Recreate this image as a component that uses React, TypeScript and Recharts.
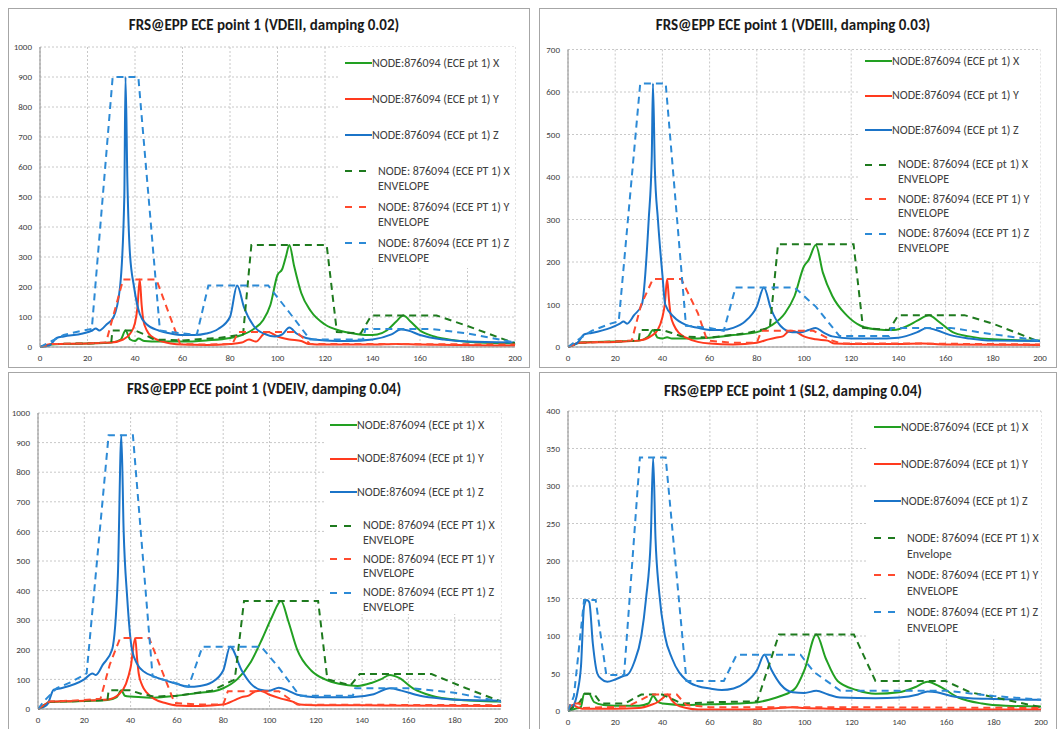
import { CartesianGrid, Line, LineChart, XAxis, YAxis } from "recharts";

type Pt = [number, number];

const FONT = "Carlito, Lato, 'Open Sans', sans-serif";
const GREEN = "#22a022";
const GREEN_ENV = "#1e7a1e";
const RED = "#ff3a1e";
const RED_ENV = "#ff4a2e";
const BLUE = "#1b74c8";
const BLUE_ENV = "#2c8ad6";

const FREQ_TICKS = [0, 20, 40, 60, 80, 100, 120, 140, 160, 180, 200];

// ---- VDEII, damping 0.02 ----
const vde2X: Pt[] = [[0, 0], [5, 8], [10, 10], [20, 12], [30, 15], [34, 25], [36, 55], [38, 25], [40, 20], [41.5, 28], [44, 20], [50, 18], [60, 18], [70, 22], [80, 30], [85, 40], [90, 60], [94, 90], [97, 140], [100, 240], [102, 260], [103.5, 300], [105, 340], [107, 270], [110, 180], [114, 120], [120, 75], [126, 55], [132, 45], [138, 40], [142, 42], [146, 55], [150, 85], [153, 105], [156, 85], [160, 55], [166, 35], [175, 22], [185, 15], [200, 12]];
const vde2Y: Pt[] = [[0, 0], [5, 10], [20, 12], [30, 15], [35, 25], [38, 45], [40, 80], [41, 130], [42, 225], [42.8, 140], [43.5, 90], [45, 55], [47, 35], [50, 22], [55, 12], [60, 8], [70, 7], [80, 10], [85, 15], [88, 25], [91, 18], [94, 42], [96, 50], [100, 35], [105, 25], [110, 20], [113, 10], [120, 8], [140, 8], [150, 10], [160, 8], [200, 5]];
const vde2Z: Pt[] = [[0, 0], [4, 5], [7, 30], [10, 35], [18, 45], [22, 55], [23.5, 62], [25, 55], [28, 75], [31, 100], [33.7, 200], [35.5, 500], [36, 900], [36.8, 550], [37.8, 320], [39.6, 200], [42, 110], [45, 75], [50, 55], [55, 45], [60, 40], [65, 40], [70, 45], [75, 60], [80, 100], [83, 205], [86, 130], [90, 70], [95, 42], [99, 35], [102, 42], [105, 65], [108, 45], [112, 30], [120, 22], [130, 20], [140, 25], [148, 42], [152, 58], [155, 55], [160, 40], [170, 25], [180, 18], [200, 15]];
const vde2XEnv: Pt[] = [[0, 0], [5, 10], [20, 12], [30, 15], [30.5, 55], [40, 55], [44, 42], [48, 25], [60, 22], [75, 30], [85.5, 42], [89, 340], [120.7, 340], [125, 50], [135, 45], [139.5, 105], [167, 105], [180, 70], [200, 12]];
const vde2YEnv: Pt[] = [[0, 0], [5, 10], [20, 12], [27.8, 15], [35, 225], [49, 225], [59, 10], [70, 8], [81, 10], [83.5, 50], [108, 50], [113.7, 10], [150, 10], [200, 8]];
const vde2ZEnv: Pt[] = [[0, 0], [5, 20], [10, 40], [18, 55], [21.8, 60], [30.6, 900], [41.4, 900], [50.5, 55], [60, 45], [66, 40], [70.9, 205], [96.1, 205], [105, 115], [113.7, 25], [136, 25], [137, 60], [165, 60], [180, 45], [200, 15]];

// ---- VDEIII, damping 0.03 ----
const vde3X: Pt[] = [[0, 0], [5, 10], [10, 12], [20, 13], [30, 15], [34, 25], [36, 40], [38, 22], [40, 20], [42, 23], [44, 20], [50, 20], [60, 22], [70, 28], [80, 35], [86, 50], [92, 80], [96, 120], [100, 190], [102, 205], [105, 240], [108, 175], [112, 120], [118, 75], [124, 50], [130, 42], [138, 40], [144, 50], [148, 62], [153, 75], [157, 60], [163, 35], [170, 25], [180, 18], [200, 15]];
const vde3Y: Pt[] = [[0, 0], [5, 10], [20, 12], [30, 15], [35, 25], [38, 40], [40, 70], [41, 100], [42, 160], [42.8, 110], [43.5, 75], [45, 50], [47, 33], [50, 22], [55, 12], [60, 8], [70, 6], [80, 10], [85, 18], [88, 22], [91, 25], [94, 38], [96, 37], [100, 25], [105, 18], [110, 15], [113, 8], [120, 7], [140, 7], [150, 8], [160, 6], [200, 5]];
const vde3Z: Pt[] = [[0, 0], [4, 10], [7, 30], [10, 33], [18, 45], [22, 55], [23.5, 60], [25, 55], [28, 75], [31.3, 100], [34.2, 300], [35.5, 450], [36, 620], [36.8, 420], [38.1, 300], [40, 170], [41.2, 100], [45, 70], [50, 52], [55, 45], [60, 40], [65, 40], [70, 45], [75, 60], [80, 95], [83, 140], [86, 90], [90, 50], [95, 35], [99, 35], [102, 40], [105, 45], [108, 35], [112, 25], [120, 20], [130, 20], [140, 22], [148, 35], [152, 45], [156, 40], [162, 28], [170, 20], [180, 15], [200, 14]];
const vde3XEnv: Pt[] = [[0, 0], [5, 10], [20, 13], [30, 15], [30.5, 40], [40, 40], [44, 33], [48, 25], [60, 22], [75, 32], [85.5, 45], [89, 242], [121, 242], [125, 45], [136, 40], [140, 75], [168, 75], [180, 55], [200, 12]];
const vde3YEnv: Pt[] = [[0, 0], [5, 10], [20, 13], [27, 15], [31, 100], [36, 160], [48, 160], [55, 80], [59, 15], [70, 10], [80, 10], [82, 38], [104, 38], [112, 15], [116, 8], [150, 8], [200, 6]];
const vde3ZEnv: Pt[] = [[0, 0], [5, 20], [10, 38], [18, 55], [21.5, 60], [30.6, 620], [41.4, 620], [50, 50], [60, 45], [66, 38], [71, 140], [96, 140], [105, 95], [115, 26], [136, 26], [137, 45], [162, 45], [180, 30], [200, 15]];

// ---- VDEIV, damping 0.04 ----
const vde4X: Pt[] = [[0, 0], [4, 20], [5, 24], [10, 25], [20, 27], [30, 30], [34, 40], [36, 63], [37.5, 45], [40, 42], [45, 40], [50, 38], [60, 45], [70, 55], [76, 60], [80, 70], [86, 100], [92, 160], [97, 240], [101, 310], [105, 365], [108, 300], [112, 200], [118, 130], [124, 100], [130, 85], [138, 78], [144, 88], [148, 100], [152, 115], [156, 105], [162, 70], [170, 45], [180, 32], [200, 25]];
const vde4Y: Pt[] = [[0, 0], [4, 20], [5, 25], [10, 26], [20, 28], [30, 32], [35, 50], [38, 85], [40, 140], [42, 240], [42.8, 170], [43.5, 120], [45, 80], [47, 55], [50, 35], [55, 20], [60, 12], [70, 10], [80, 15], [85, 30], [88, 40], [91, 45], [94, 60], [96, 62], [100, 48], [105, 35], [110, 25], [113, 15], [120, 13], [150, 12], [200, 10]];
const vde4Z: Pt[] = [[0, 0], [4, 15], [6.8, 65], [10, 70], [20, 100], [23.5, 120], [25, 115], [28, 150], [32, 200], [34.5, 450], [36, 925], [37, 600], [38.5, 380], [40.6, 200], [43, 150], [46, 125], [50, 110], [60, 85], [65, 75], [70, 78], [75, 90], [80, 130], [83, 210], [88, 130], [92, 85], [96, 65], [100, 62], [104, 72], [108, 62], [112, 48], [120, 40], [135, 40], [145, 50], [152, 70], [157, 62], [165, 45], [175, 35], [185, 30], [200, 28]];
const vde4XEnv: Pt[] = [[0, 0], [5, 24], [20, 28], [30, 30], [30.5, 63], [40, 63], [45, 50], [50, 42], [60, 45], [75, 62], [85, 100], [89, 365], [121, 365], [125, 100], [135, 80], [139, 118], [170, 118], [185, 70], [200, 25]];
const vde4YEnv: Pt[] = [[0, 0], [4, 20], [5, 25], [20, 30], [27, 35], [31, 150], [35.5, 240], [48, 240], [54, 120], [59, 20], [70, 15], [80, 15], [82, 60], [104, 60], [112, 15], [116, 14], [150, 14], [200, 13]];
const vde4ZEnv: Pt[] = [[0, 0], [3, 30], [8, 70], [14, 90], [21, 120], [30.5, 925], [41, 925], [49.5, 110], [56, 95], [65, 75], [71, 210], [96.5, 210], [104, 140], [113, 45], [136, 45], [137, 70], [162, 70], [180, 55], [200, 25]];

// ---- SL2, damping 0.04 ----
const sl2X: Pt[] = [[0, 0], [3, 3], [5.4, 5], [6.8, 23], [8.9, 23], [11, 12], [15, 8], [20, 7], [30, 7], [34, 10], [36, 20], [38, 12], [40, 10], [50, 8], [60, 9], [78, 11], [85, 15], [90, 20], [96, 30], [100, 55], [105, 102], [109, 70], [114, 40], [122, 28], [130, 23], [140, 25], [147, 32], [152, 39], [157, 33], [165, 18], [175, 10], [185, 7], [200, 6]];
const sl2Y: Pt[] = [[0, 0], [2, 8], [4, 5], [6, 3], [20, 3], [30, 4], [35, 8], [38, 12], [40, 17], [42, 22], [44, 14], [46, 8], [50, 4], [55, 2], [70, 2], [85, 3], [95, 5], [100, 4], [110, 3], [130, 2], [200, 2]];
const sl2Z: Pt[] = [[0, 0], [2, 5], [4, 25], [5.5, 60], [6.8, 140], [8, 148], [9, 145], [10.5, 90], [12.4, 50], [14, 43], [16.6, 39], [20, 42], [23.7, 47], [25, 48], [28, 65], [31, 100], [33, 150], [35, 230], [36, 338], [37, 230], [38.5, 160], [41, 100], [44, 70], [50, 41], [55, 33], [60, 30], [65, 28], [70, 30], [75, 38], [80, 55], [83, 75], [86, 55], [90, 35], [95, 25], [100, 24], [105, 27], [110, 22], [115, 18], [130, 17], [140, 18], [148, 22], [152, 26], [156, 25], [162, 20], [170, 17], [180, 16], [200, 15]];
const sl2XEnv: Pt[] = [[0, 0], [5, 12], [7, 23], [11, 23], [14, 10], [24, 10], [31, 22], [40, 22], [48, 10], [65, 12], [80, 13], [89.2, 102], [120.9, 102], [130, 40], [159.6, 40], [170, 25], [185, 15], [200, 5]];
const sl2YEnv: Pt[] = [[0, 0], [1, 10], [5, 10], [5.5, 4], [25, 6], [31, 15], [35, 22], [46, 22], [50, 8], [60, 5], [120, 5], [200, 4]];
const sl2ZEnv: Pt[] = [[0, 0], [2.5, 20], [6.8, 148], [11.7, 148], [16.2, 48], [23.7, 48], [30.4, 338], [41.3, 338], [50.1, 40], [65.9, 40], [71.3, 75], [98.3, 75], [104, 52], [115.2, 27], [160, 27], [180, 20], [200, 15]];

const SOLID_LABELS = ["NODE:876094 (ECE pt 1) X", "NODE:876094 (ECE pt 1) Y", "NODE:876094 (ECE pt 1) Z"];

interface Series { name: string; pts: Pt[]; color: string; env: boolean; label: string[] }

function seriesSet(x: Pt[], y: Pt[], z: Pt[], xe: Pt[], ye: Pt[], ze: Pt[], envLabels: string[][]): Series[] {
  return [
    { name: "x", pts: x, color: GREEN, env: false, label: [SOLID_LABELS[0]] },
    { name: "y", pts: y, color: RED, env: false, label: [SOLID_LABELS[1]] },
    { name: "z", pts: z, color: BLUE, env: false, label: [SOLID_LABELS[2]] },
    { name: "xe", pts: xe, color: GREEN_ENV, env: true, label: envLabels[0] },
    { name: "ye", pts: ye, color: RED_ENV, env: true, label: envLabels[1] },
    { name: "ze", pts: ze, color: BLUE_ENV, env: true, label: envLabels[2] },
  ];
}

const ENV_UPPER = [
  ["NODE: 876094 (ECE PT 1) X", "ENVELOPE"],
  ["NODE: 876094 (ECE PT 1) Y", "ENVELOPE"],
  ["NODE: 876094 (ECE PT 1) Z", "ENVELOPE"],
];

const PANELS = [
  {
    title: "FRS@EPP ECE point 1 (VDEII, damping 0.02)",
    box: { x: 8, y: 8, w: 522, h: 360 }, plot: { l: 40, r: 515, t: 47, b: 347 }, titleY: 25,
    yMax: 1000, yStep: 100,
    legend: { x: 338, y: 47, w: 177, h: 221, lineX: 345, first: 63, gap: 36, lineH: 15 },
    series: seriesSet(vde2X, vde2Y, vde2Z, vde2XEnv, vde2YEnv, vde2ZEnv, ENV_UPPER),
  },
  {
    title: "FRS@EPP ECE point 1 (VDEIII, damping 0.03)",
    box: { x: 539, y: 8, w: 518, h: 360 }, plot: { l: 568, r: 1040, t: 49.5, b: 347 }, titleY: 25,
    yMax: 700, yStep: 100,
    legend: { x: 858, y: 50, w: 182, h: 212, lineX: 865, first: 61, gap: 34.5, lineH: 14.5 },
    series: seriesSet(vde3X, vde3Y, vde3Z, vde3XEnv, vde3YEnv, vde3ZEnv, [["NODE: 876094 (ECE pt 1) X", "ENVELOPE"], ENV_UPPER[1], ENV_UPPER[2]]),
  },
  {
    title: "FRS@EPP ECE point 1 (VDEIV, damping 0.04)",
    box: { x: 8, y: 372, w: 522, h: 360 }, plot: { l: 38, r: 501, t: 413, b: 709 }, titleY: 389,
    yMax: 1000, yStep: 100,
    legend: { x: 325, y: 413, w: 176, h: 201, lineX: 330, first: 425, gap: 33.5, lineH: 14.5 },
    series: seriesSet(vde4X, vde4Y, vde4Z, vde4XEnv, vde4YEnv, vde4ZEnv, ENV_UPPER),
  },
  {
    title: "FRS@EPP ECE point 1 (SL2, damping 0.04)",
    box: { x: 539, y: 372, w: 518, h: 360 }, plot: { l: 568, r: 1041, t: 411, b: 711 }, titleY: 391,
    yMax: 400, yStep: 50,
    legend: { x: 867, y: 412, w: 174, h: 226, lineX: 874, first: 427, gap: 37, lineH: 16 },
    series: seriesSet(sl2X, sl2Y, sl2Z, sl2XEnv, sl2YEnv, sl2ZEnv, [["NODE: 876094 (ECE PT 1) X", "Envelope"], ENV_UPPER[1], ENV_UPPER[2]]),
  },
];

const Y_W = 30;
const X_H = 20;

const toRows = (pts: Pt[]) => pts.map(([f, v]) => ({ f, v }));

function LegendMark({ color, env }: { color: string; env: boolean }) {
  return (
    <svg width={27} height={4} style={{ flex: "none", marginRight: env ? 6 : 0 }}>
      {env ? (
        <>
          <line x1={0} y1={2} x2={7} y2={2} stroke={color} strokeWidth={2} />
          <line x1={14} y1={2} x2={21} y2={2} stroke={color} strokeWidth={2} />
        </>
      ) : (
        <line x1={0} y1={2} x2={27} y2={2} stroke={color} strokeWidth={2} />
      )}
    </svg>
  );
}

function Panel({ p }: { p: (typeof PANELS)[number] }) {
  const { box, plot, legend } = p;
  const yTicks: number[] = [];
  for (let v = 0; v <= p.yMax; v += p.yStep) yTicks.push(v);
  const margin = {
    top: plot.t - box.y,
    left: plot.l - box.x - Y_W,
    right: box.x + box.w - plot.r,
    bottom: box.y + box.h - plot.b - X_H,
  };
  return (
    <div style={{ position: "absolute", left: box.x, top: box.y, width: box.w, height: box.h, background: "#fff" }}>
      <div style={{ position: "absolute", left: 0, top: 0, width: box.w, height: box.h, border: "1px solid #a6a6a6", boxSizing: "border-box" }} />
      <div style={{ position: "absolute", left: 0, width: box.w - 10, top: p.titleY - box.y - 10, textAlign: "center", fontFamily: FONT, fontWeight: 700, fontSize: 15, lineHeight: "20px", color: "#1a1a1a" }}>
        {p.title}
      </div>
      <div style={{ position: "absolute", left: 0, top: 0 }}>
        <LineChart width={box.w} height={box.h} margin={margin}>
          <CartesianGrid stroke="#c8c8c8" strokeDasharray="2 2" />
          <XAxis
            dataKey="f"
            type="number"
            domain={[0, 200]}
            ticks={FREQ_TICKS}
            height={X_H}
            tickLine={false}
            axisLine={{ stroke: "#8c8c8c" }}
            tick={{ fontSize: 9, fill: "#404040", fontFamily: FONT }}
            allowDataOverflow
          />
          <YAxis
            type="number"
            domain={[0, p.yMax]}
            ticks={yTicks}
            width={Y_W}
            tickLine={false}
            axisLine={{ stroke: "#8c8c8c" }}
            tick={{ fontSize: 9, fill: "#404040", fontFamily: FONT }}
          />
          {p.series.map((s) => (
            <Line
              key={s.name}
              data={toRows(s.pts)}
              dataKey="v"
              type={s.env ? "linear" : "monotone"}
              stroke={s.color}
              strokeWidth={2}
              strokeDasharray={s.env ? "7 5" : undefined}
              dot={false}
              activeDot={false}
              isAnimationActive={false}
            />
          ))}
        </LineChart>
      </div>
      <div style={{ position: "absolute", left: legend.x - box.x, top: legend.y - box.y, width: legend.w, height: legend.h, background: "#fff" }} />
      {p.series.map((s, i) => {
        const top = legend.first + legend.gap * i - legend.lineH / 2 - box.y;
        return (
          <div key={s.name} style={{ position: "absolute", left: legend.lineX - box.x, top, display: "flex", alignItems: "flex-start" }}>
            <div style={{ height: legend.lineH, display: "flex", alignItems: "center" }}>
              <LegendMark color={s.color} env={s.env} />
            </div>
            <div style={{ fontFamily: FONT, fontSize: 12, lineHeight: `${legend.lineH}px`, color: "#404040", whiteSpace: "nowrap" }}>
              {s.label.map((t) => (
                <div key={t}>{t}</div>
              ))}
            </div>
          </div>
        );
      })}
    </div>
  );
}

export default function App() {
  return (
    <div style={{ position: "absolute", left: 0, top: 0, width: 1057, height: 729, overflow: "hidden", background: "#fff" }}>
      {PANELS.map((p) => (
        <Panel key={p.title} p={p} />
      ))}
    </div>
  );
}
